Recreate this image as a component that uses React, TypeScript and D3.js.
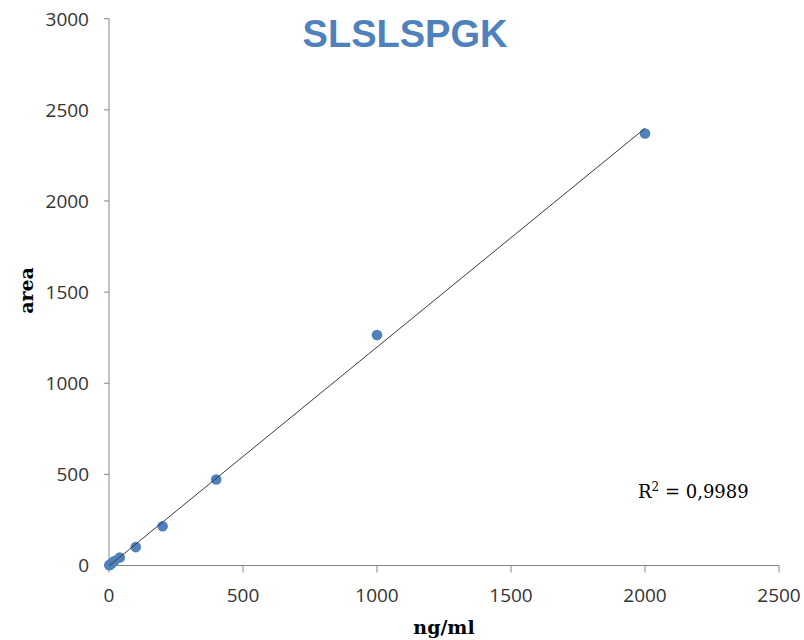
import React from "react";
import * as d3 from "d3";

const concentrations = [1, 5, 10, 20, 40, 100, 200, 400, 1000, 2000];
const areas = [2, 6, 12, 25, 44, 101, 215, 472, 1264, 2370];
const xTicks = [0, 500, 1000, 1500, 2000, 2500];
const yTicks = [0, 500, 1000, 1500, 2000, 2500, 3000];
const title = "SLSLSPGK";
const xLabel = "ng/ml";
const yLabel = "area";
const r2Text = "0,9989";

export default function App() {
  const W = 804, H = 640;
  const x = d3.scaleLinear().domain([0, 2500]).range([109, 779]);
  const y = d3.scaleLinear().domain([0, 3000]).range([565.5, 18.7]);

  const n = concentrations.length;
  const mx = d3.mean(concentrations)!;
  const my = d3.mean(areas)!;
  let sxy = 0, sxx = 0;
  for (let i = 0; i < n; i++) {
    sxy += (concentrations[i] - mx) * (areas[i] - my);
    sxx += (concentrations[i] - mx) ** 2;
  }
  const slope = sxy / sxx;
  const intercept = my - slope * mx;
  const x0 = d3.min(concentrations)!;
  const x1 = d3.max(concentrations)!;
  const line = d3.line<number>().x((d) => x(d)).y((d) => y(slope * d + intercept));

  const axisColor = "#868686";
  const tickFont = "'Open Sans', sans-serif";
  return (
    <svg width={W} height={H} style={{ position: "absolute", left: 0, top: 0, background: "#fff" }}>
      <text x={405} y={46.5} textAnchor="middle" fontFamily="'Liberation Sans', Arial, sans-serif" fontWeight="bold" fontSize={38} fill="#4F81BD">{title}</text>
      <line x1={x(0)} x2={x(2500)} y1={y(0)} y2={y(0)} stroke={axisColor} strokeWidth={1} />
      <line x1={x(0)} x2={x(0)} y1={y(0)} y2={y(3000)} stroke={axisColor} strokeWidth={1} />
      {xTicks.map((t) => (
        <g key={"x" + t}>
          <line x1={x(t)} x2={x(t)} y1={y(0)} y2={y(0) + 7} stroke={axisColor} />
          <text x={x(t)} y={601.5} textAnchor="middle" fontFamily={tickFont} fontSize={19} fill="#333">{t}</text>
        </g>
      ))}
      {yTicks.map((t) => (
        <g key={"y" + t}>
          <line x1={x(0) - 5} x2={x(0)} y1={y(t)} y2={y(t)} stroke={axisColor} />
          <text x={89} y={y(t) + 6.8} textAnchor="end" fontFamily={tickFont} fontSize={19} fill="#333">{t}</text>
        </g>
      ))}
      {concentrations.map((c, i) => (
        <circle key={i} cx={x(c)} cy={y(areas[i])} r={5.3} fill="#4F81BD" />
      ))}
      <path d={line([x0, x1]) || ""} stroke="#3a3a3a" strokeWidth={1} fill="none" />
      <text x={444} y={634} textAnchor="middle" fontFamily="'DejaVu Serif', serif" fontWeight="bold" fontSize={19} fill="#000">{xLabel}</text>
      <text transform="translate(33,290.5) rotate(-90)" textAnchor="middle" fontFamily="'DejaVu Serif', serif" fontWeight="bold" fontSize={19} fill="#000">{yLabel}</text>
      <text x={638} y={498} fontFamily="'DejaVu Serif', serif" fontSize={18} fill="#000">
        R<tspan fontSize={12} dy={-7}>2</tspan><tspan dy={7}>{" = " + r2Text}</tspan>
      </text>
    </svg>
  );
}
